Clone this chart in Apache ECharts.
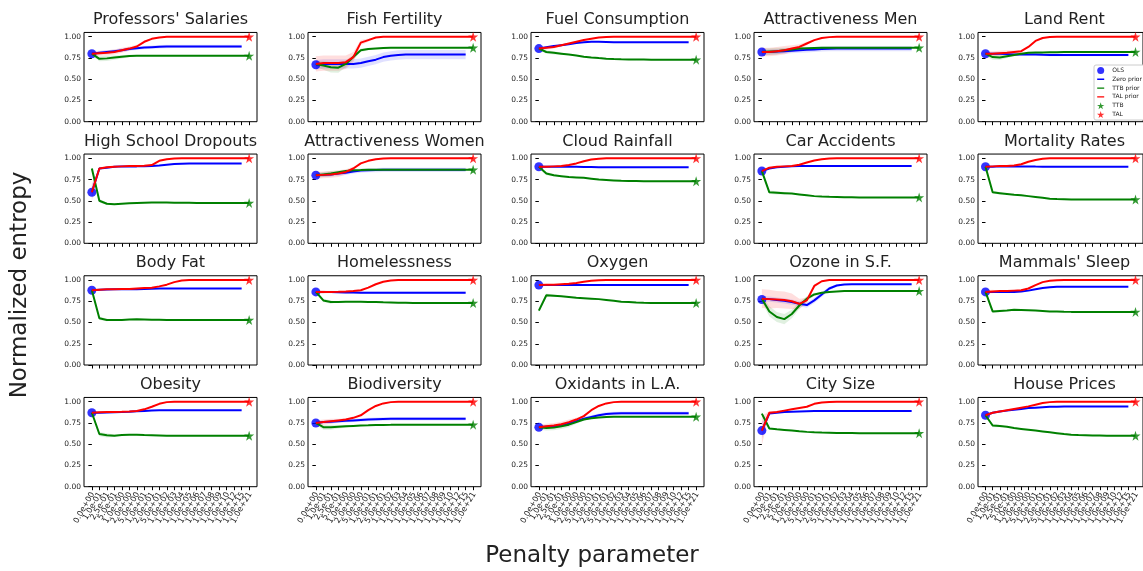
<!DOCTYPE html>
<html><head><meta charset="utf-8">
<script src="https://cdn.jsdelivr.net/npm/echarts@6/dist/echarts.min.js"></script>
<style>html,body{margin:0;padding:0;background:#fff}#c{width:1143px;height:571px}</style>
</head><body><div id="c"></div>
<script>
const penaltyLabels = ["0.0e+00","1.0e-01","2.5e-01","5.0e-01","1.0e+00","2.0e+00","5.0e+00","1.0e+01","2.0e+01","5.0e+01","1.0e+02","1.0e+03","1.0e+04","1.0e+05","1.0e+06","1.0e+07","1.0e+08","1.0e+09","1.0e+10","1.0e+12","1.0e+15","1.0e+21"];
const yTickValues = [0, 0.25, 0.5, 0.75, 1.0];
const titles = ["Professors' Salaries","Fish Fertility","Fuel Consumption","Attractiveness Men","Land Rent",
 "High School Dropouts","Attractiveness Women","Cloud Rainfall","Car Accidents","Mortality Rates",
 "Body Fat","Homelessness","Oxygen","Ozone in S.F.","Mammals' Sleep",
 "Obesity","Biodiversity","Oxidants in L.A.","City Size","House Prices"];
const olsValues = [0.80,0.67,0.86,0.82,0.80, 0.60,0.80,0.90,0.85,0.90, 0.88,0.86,0.94,0.77,0.86, 0.87,0.75,0.70,0.66,0.84];
const ttbFinal = [0.775,0.87,0.73,0.87,0.82, 0.475,0.865,0.73,0.54,0.515, 0.53,0.73,0.73,0.87,0.625, 0.60,0.73,0.823,0.63,0.60];
const talFinal = [1,1,1,1,1, 1,1,1,1,1, 1,1,1,1,1, 1,1,1,1,1];

const zeroPrior = [
 [0.80,0.81,0.82,0.83,0.84,0.855,0.865,0.872,0.877,0.881,0.884,0.886,0.886,0.886,0.886,0.886,0.886,0.886,0.886,0.886,0.886],
 [0.67,0.68,0.68,0.68,0.68,0.68,0.69,0.71,0.73,0.76,0.775,0.785,0.79,0.79,0.79,0.79,0.79,0.79,0.79,0.79,0.79],
 [0.86,0.875,0.89,0.90,0.91,0.925,0.935,0.94,0.94,0.938,0.935,0.935,0.935,0.935,0.935,0.935,0.935,0.935,0.935,0.935,0.935],
 [0.82,0.82,0.825,0.83,0.835,0.84,0.845,0.85,0.855,0.858,0.86,0.86,0.86,0.86,0.86,0.86,0.86,0.86,0.86,0.86,0.86],
 [0.80,0.80,0.80,0.795,0.79,0.79,0.79,0.79,0.787,0.786,0.785,0.785,0.785,0.785,0.785,0.785,0.785,0.785,0.785,0.785,0.785],
 [0.60,0.88,0.89,0.90,0.905,0.905,0.905,0.907,0.91,0.915,0.925,0.932,0.937,0.94,0.94,0.94,0.94,0.94,0.94,0.94,0.94],
 [0.80,0.805,0.81,0.82,0.83,0.845,0.855,0.86,0.862,0.864,0.865,0.865,0.865,0.865,0.865,0.865,0.865,0.865,0.865,0.865,0.865],
 [0.90,0.90,0.90,0.90,0.90,0.90,0.898,0.897,0.896,0.895,0.895,0.895,0.895,0.895,0.895,0.895,0.895,0.895,0.895,0.895,0.895],
 [0.85,0.88,0.895,0.90,0.905,0.908,0.91,0.91,0.91,0.91,0.91,0.91,0.91,0.91,0.91,0.91,0.91,0.91,0.91,0.91,0.91],
 [0.90,0.90,0.905,0.905,0.905,0.905,0.905,0.903,0.902,0.90,0.90,0.90,0.90,0.90,0.90,0.90,0.90,0.90,0.90,0.90,0.90],
 [0.88,0.885,0.888,0.89,0.89,0.89,0.89,0.893,0.896,0.90,0.90,0.90,0.90,0.90,0.90,0.90,0.90,0.90,0.90,0.90,0.90],
 [0.86,0.86,0.858,0.855,0.853,0.852,0.85,0.85,0.85,0.85,0.85,0.85,0.85,0.85,0.85,0.85,0.85,0.85,0.85,0.85,0.85],
 [0.94,0.94,0.94,0.94,0.94,0.94,0.94,0.94,0.94,0.94,0.94,0.94,0.94,0.94,0.94,0.94,0.94,0.94,0.94,0.94,0.94],
 [0.78,0.775,0.765,0.755,0.74,0.72,0.705,0.76,0.83,0.90,0.935,0.948,0.95,0.95,0.95,0.95,0.95,0.95,0.95,0.95,0.95],
 [0.86,0.86,0.86,0.86,0.86,0.865,0.875,0.89,0.905,0.915,0.92,0.92,0.92,0.92,0.92,0.92,0.92,0.92,0.92,0.92,0.92],
 [0.87,0.87,0.872,0.875,0.878,0.882,0.887,0.892,0.896,0.899,0.90,0.90,0.90,0.90,0.90,0.90,0.90,0.90,0.90,0.90,0.90],
 [0.75,0.76,0.765,0.77,0.775,0.78,0.785,0.79,0.793,0.796,0.798,0.80,0.80,0.80,0.80,0.80,0.80,0.80,0.80,0.80,0.80],
 [0.70,0.705,0.71,0.72,0.74,0.77,0.80,0.82,0.84,0.855,0.862,0.865,0.865,0.865,0.865,0.865,0.865,0.865,0.865,0.865,0.865],
 [0.66,0.86,0.87,0.88,0.883,0.886,0.888,0.89,0.89,0.89,0.89,0.89,0.89,0.89,0.89,0.89,0.89,0.89,0.89,0.89,0.89],
 [0.84,0.87,0.885,0.895,0.905,0.915,0.925,0.93,0.935,0.94,0.942,0.944,0.945,0.945,0.945,0.945,0.945,0.945,0.945,0.945,0.945]
];

const ttbPrior = [
 [0.80,0.74,0.745,0.755,0.765,0.772,0.775,0.775,0.775,0.775,0.775,0.775,0.775,0.775,0.775,0.775,0.775,0.775,0.775,0.775,0.775,0.775],
 [0.68,0.66,0.64,0.635,0.68,0.76,0.84,0.855,0.862,0.867,0.87,0.87,0.87,0.87,0.87,0.87,0.87,0.87,0.87,0.87,0.87,0.87],
 [0.86,0.82,0.81,0.80,0.79,0.78,0.765,0.755,0.748,0.742,0.738,0.735,0.733,0.732,0.731,0.73,0.73,0.73,0.73,0.73,0.73,0.73],
 [0.82,0.825,0.83,0.84,0.85,0.86,0.865,0.868,0.87,0.87,0.87,0.87,0.87,0.87,0.87,0.87,0.87,0.87,0.87,0.87,0.87,0.87],
 [0.80,0.76,0.755,0.77,0.785,0.80,0.81,0.813,0.815,0.817,0.818,0.819,0.82,0.82,0.82,0.82,0.82,0.82,0.82,0.82,0.82,0.82],
 [0.88,0.50,0.465,0.46,0.465,0.47,0.475,0.478,0.48,0.48,0.48,0.478,0.477,0.476,0.475,0.475,0.475,0.475,0.475,0.475,0.475,0.475],
 [0.80,0.81,0.82,0.835,0.85,0.86,0.862,0.865,0.865,0.865,0.865,0.865,0.865,0.865,0.865,0.865,0.865,0.865,0.865,0.865,0.865,0.865],
 [0.90,0.82,0.80,0.79,0.78,0.775,0.77,0.76,0.75,0.745,0.74,0.735,0.733,0.732,0.731,0.73,0.73,0.73,0.73,0.73,0.73,0.73],
 [0.85,0.60,0.595,0.59,0.585,0.575,0.565,0.555,0.55,0.547,0.545,0.543,0.542,0.54,0.54,0.54,0.54,0.54,0.54,0.54,0.54,0.54],
 [0.90,0.60,0.59,0.58,0.57,0.565,0.555,0.545,0.535,0.525,0.52,0.518,0.516,0.515,0.515,0.515,0.515,0.515,0.515,0.515,0.515,0.515],
 [0.88,0.55,0.53,0.528,0.53,0.535,0.537,0.535,0.533,0.532,0.53,0.53,0.53,0.53,0.53,0.53,0.53,0.53,0.53,0.53,0.53,0.53],
 [0.86,0.76,0.74,0.74,0.745,0.745,0.745,0.742,0.74,0.737,0.735,0.733,0.732,0.73,0.73,0.73,0.73,0.73,0.73,0.73,0.73,0.73],
 [0.64,0.82,0.815,0.81,0.80,0.79,0.785,0.78,0.775,0.765,0.755,0.745,0.74,0.735,0.732,0.73,0.73,0.73,0.73,0.73,0.73,0.73],
 [0.78,0.63,0.565,0.54,0.60,0.70,0.78,0.83,0.85,0.86,0.865,0.87,0.87,0.87,0.87,0.87,0.87,0.87,0.87,0.87,0.87,0.87],
 [0.86,0.63,0.635,0.64,0.65,0.648,0.645,0.64,0.635,0.63,0.628,0.626,0.625,0.625,0.625,0.625,0.625,0.625,0.625,0.625,0.625,0.625],
 [0.87,0.62,0.605,0.60,0.608,0.61,0.61,0.607,0.605,0.603,0.60,0.60,0.60,0.60,0.60,0.60,0.60,0.60,0.60,0.60,0.60,0.60],
 [0.75,0.70,0.70,0.705,0.71,0.715,0.72,0.722,0.725,0.727,0.728,0.73,0.73,0.73,0.73,0.73,0.73,0.73,0.73,0.73,0.73,0.73],
 [0.70,0.69,0.695,0.71,0.73,0.76,0.79,0.805,0.815,0.82,0.822,0.823,0.823,0.823,0.823,0.823,0.823,0.823,0.823,0.823,0.823,0.823],
 [0.86,0.685,0.675,0.668,0.66,0.652,0.645,0.64,0.637,0.635,0.633,0.632,0.631,0.63,0.63,0.63,0.63,0.63,0.63,0.63,0.63,0.63],
 [0.84,0.72,0.715,0.705,0.69,0.68,0.67,0.66,0.65,0.64,0.63,0.62,0.612,0.607,0.605,0.603,0.602,0.60,0.60,0.60,0.60,0.60]
];

const talPrior = [
 [0.80,0.805,0.81,0.82,0.84,0.86,0.885,0.94,0.975,0.99,0.998,1,1,1,1,1,1,1,1,1,1,1],
 [0.68,0.69,0.69,0.69,0.70,0.76,0.93,0.96,0.99,1,1,1,1,1,1,1,1,1,1,1,1,1],
 [0.86,0.87,0.88,0.90,0.92,0.94,0.96,0.975,0.99,0.997,1,1,1,1,1,1,1,1,1,1,1,1],
 [0.82,0.82,0.83,0.84,0.86,0.88,0.92,0.96,0.985,0.995,1,1,1,1,1,1,1,1,1,1,1,1],
 [0.80,0.80,0.805,0.81,0.82,0.83,0.88,0.95,0.985,0.997,1,1,1,1,1,1,1,1,1,1,1,1],
 [0.60,0.88,0.895,0.90,0.905,0.91,0.91,0.912,0.92,0.97,0.99,0.997,1,1,1,1,1,1,1,1,1,1],
 [0.80,0.805,0.81,0.82,0.84,0.88,0.94,0.97,0.99,0.998,1,1,1,1,1,1,1,1,1,1,1,1],
 [0.90,0.90,0.905,0.91,0.92,0.94,0.965,0.985,0.995,1,1,1,1,1,1,1,1,1,1,1,1,1],
 [0.85,0.89,0.90,0.905,0.91,0.925,0.95,0.975,0.99,0.998,1,1,1,1,1,1,1,1,1,1,1,1],
 [0.90,0.905,0.91,0.91,0.915,0.93,0.96,0.98,0.995,1,1,1,1,1,1,1,1,1,1,1,1,1],
 [0.88,0.885,0.89,0.89,0.893,0.895,0.90,0.905,0.91,0.925,0.945,0.975,0.995,1,1,1,1,1,1,1,1,1],
 [0.86,0.86,0.86,0.862,0.865,0.87,0.88,0.91,0.95,0.98,0.995,1,1,1,1,1,1,1,1,1,1,1],
 [0.94,0.945,0.945,0.95,0.955,0.965,0.98,0.99,0.997,1,1,1,1,1,1,1,1,1,1,1,1,1],
 [0.78,0.775,0.77,0.765,0.75,0.72,0.76,0.93,0.985,1,1,1,1,1,1,1,1,1,1,1,1,1],
 [0.86,0.865,0.87,0.87,0.875,0.88,0.90,0.94,0.975,0.99,0.998,1,1,1,1,1,1,1,1,1,1,1],
 [0.87,0.875,0.878,0.88,0.882,0.885,0.89,0.91,0.94,0.975,0.995,1,1,1,1,1,1,1,1,1,1,1],
 [0.75,0.76,0.77,0.78,0.79,0.81,0.84,0.90,0.95,0.98,0.995,1,1,1,1,1,1,1,1,1,1,1],
 [0.70,0.71,0.72,0.735,0.76,0.79,0.83,0.90,0.95,0.98,0.995,1,1,1,1,1,1,1,1,1,1,1],
 [0.66,0.87,0.88,0.895,0.91,0.925,0.94,0.975,0.99,0.997,1,1,1,1,1,1,1,1,1,1,1,1],
 [0.84,0.87,0.885,0.90,0.915,0.93,0.945,0.965,0.985,0.995,1,1,1,1,1,1,1,1,1,1,1,1]
];

// half-widths of the shaded uncertainty bands (points beyond the list have no band)
const zeroBand = [
 [0.02,0.02,0.02,0.02,0.02,0.02,0.02,0.02,0.02,0.02,0.02,0.02,0.02,0.02,0.02,0.02,0.02,0.02,0.02,0.02,0.02],
 [0.055,0.055,0.055,0.055,0.055,0.055,0.055,0.055,0.055,0.055,0.055,0.055,0.055,0.055,0.055,0.055,0.055,0.055,0.055,0.055,0.055],
 [],
 [0.03,0.03,0.03,0.03,0.03,0.03,0.03,0.03,0.03,0.03,0.03,0.03,0.03,0.03,0.03,0.03,0.03,0.03,0.03,0.03,0.03],
 [0.015,0.015,0.015,0.015,0.015,0.015,0.015,0.015,0.015,0.015,0.015,0.015,0.015,0.015,0.015,0.015,0.015,0.015,0.015,0.015,0.015],
 [0.08,0],
 [0.025,0.025,0.025,0.025,0.025,0.025,0.025,0.025,0.025,0.025,0.025,0.025,0.025,0.025,0.025,0.025,0.025,0.025,0.025,0.025,0.025],
 [],
 [0.03,0],
 [],
 [0.02,0],
 [0.015,0.015,0.015,0.015,0.015,0.015,0.015,0.015,0.015,0.015,0.015,0.015,0.015,0.015,0.015,0.015,0.015,0.015,0.015,0.015,0.015],
 [],
 [0.03,0.03,0.03,0.03,0.03,0.03,0.03,0.03,0.03,0.02,0.015,0],
 [],
 [],
 [0.02,0.02,0.02,0.02,0.02,0.02,0.02,0.02,0.02,0.02,0.02,0.02,0.02,0.02,0.02,0.02,0.02,0.02,0.02,0.02,0.02],
 [0.02,0.02,0.02,0.02,0.02,0.02,0.02,0.02,0.02,0.02,0.02,0.02,0.02,0.02,0.02,0.02,0.02,0.02,0.02,0.02,0.02],
 [0.1,0],
 [0.02,0]
];
const ttbBand = [
 [0.02,0.03,0.03,0.025,0.02,0.015,0],
 [0.03,0.05,0.06,0.06,0.04,0.03,0.02,0.015,0],
 [0.02,0.02,0.02,0.015,0],
 [0.04,0.04,0.04,0.03,0.02,0.015,0],
 [0.03,0.03,0.03,0.02,0.015,0],
 [0.015,0.02,0.015,0],
 [0.03,0.03,0.03,0.02,0.015,0],
 [0.015,0.02,0.015,0],
 [0.02,0.02,0.02,0.015,0],
 [0.015,0.015,0.015,0],
 [0.015,0.02,0.015,0],
 [0.02,0.02,0.02,0],
 [0.02,0.02,0.015,0],
 [0.04,0.06,0.06,0.06,0.05,0.04,0.03,0.02,0],
 [0.015,0.015,0.015,0],
 [0.015,0.025,0.025,0.015,0],
 [0.02,0.03,0.03,0.02,0.015,0],
 [0.03,0.03,0.03,0.03,0.03,0.02,0.015,0],
 [0.015,0.015,0],
 [0.015,0.02,0.015,0]
];
const talBand = [
 [0.03,0.03,0.03,0.03,0.03,0.025,0.02,0.015,0],
 [0.09,0.09,0.09,0.09,0.08,0.06,0.03,0.02,0],
 [0.02,0.02,0.02,0.015,0],
 [0.05,0.05,0.05,0.05,0.04,0.03,0.02,0],
 [0.03,0.03,0.03,0.03,0.02,0.015,0],
 [0.1,0],
 [0.04,0.04,0.04,0.04,0.03,0.02,0],
 [0.015,0.015,0],
 [0.03,0],
 [0.02,0],
 [0.02,0],
 [0.02,0.02,0],
 [],
 [0.11,0.11,0.1,0.1,0.09,0.06,0.03,0.02,0],
 [0.02,0.02,0],
 [0.02,0],
 [0.03,0.03,0.03,0.02,0.015,0],
 [0.03,0.03,0.03,0.03,0.03,0.02,0.015,0],
 [0.17,0.02,0],
 [0.02,0]
];

const STAR = 'path://M50,0 L61,35 L98,35 L68,57 L79,91 L50,70 L21,91 L32,57 L2,35 L39,35 Z';
const LINE_ICON = 'path://M0,0 L1,0 L1,1 Z M0,40 L100,40 L100,60 L0,60 Z M99,99 L100,99 L100,100 Z';
const FONT = 'DejaVu Sans';
const COL_LEFT = [84, 308, 531, 754, 978];
const ROW_ZERO = [121.7, 243.3, 365, 486.7];
const GW = 173, GH = 89.25;

const grids = [], xAxes = [], yAxes = [], series = [], graphics = [];
const xIdx = penaltyLabels.map((_, i) => i);

function bandSeries(p, values, hw, color) {
  const n = Math.min(hw.length, values.length);
  if (n < 2) return null;
  return {
    type: 'custom', xAxisIndex: p, yAxisIndex: p, silent: true, z: 1,
    data: [[0, 0]],
    renderItem: function (params, api) {
      const up = [], lo = [];
      for (let i = 0; i < n; i++) {
        up.push(api.coord([i, values[i] + hw[i]]));
        lo.push(api.coord([i, values[i] - hw[i]]));
      }
      return { type: 'polygon', shape: { points: up.concat(lo.reverse()) }, style: { fill: color } };
    }
  };
}

// rotated x tick labels for the bottom row, placed through the axis scale
function tickLabelSeries(p) {
  return {
    type: 'custom', xAxisIndex: p, yAxisIndex: p, silent: true, clip: false, z: 5,
    data: xIdx.map(i => [i, 0]),
    renderItem: function (params, api) {
      const i = api.value(0);
      const pt = api.coord([i, 0]);
      return {
        type: 'text', x: pt[0] + 1, y: pt[1] + 6, rotation: Math.PI / 3,
        style: { text: penaltyLabels[i], fontSize: 8, fontFamily: FONT, fill: '#222', textAlign: 'right', textVerticalAlign: 'middle' }
      };
    }
  };
}

for (let p = 0; p < 20; p++) {
  const r = Math.floor(p / 5), c = p % 5;
  const top = ROW_ZERO[r] - GH;
  grids.push({ left: COL_LEFT[c], top: top, width: GW, height: GH, show: true, borderColor: '#000', borderWidth: 1, backgroundColor: 'rgba(0,0,0,0)' });
  xAxes.push({
    gridIndex: p, type: 'value', min: -1.05, max: 22.05,
    axisLine: { show: false }, splitLine: { show: false },
    axisTick: { show: true, customValues: xIdx, length: 3.5, lineStyle: { color: '#000', width: 1 } },
    axisLabel: { show: false }
  });
  yAxes.push({
    gridIndex: p, type: 'value', min: 0, max: 1.05,
    axisLine: { show: false }, splitLine: { show: false },
    axisTick: { show: true, customValues: yTickValues, length: 3.5, lineStyle: { color: '#000', width: 1 } },
    axisLabel: { show: true, customValues: yTickValues, formatter: v => v.toFixed(2), fontSize: 7.5, color: '#222', fontFamily: FONT, margin: 3, showMinLabel: true, showMaxLabel: true }
  });
  graphics.push({ type: 'text', x: COL_LEFT[c] + GW / 2, y: top - 12.5, style: { text: titles[p], fontSize: 16, fontFamily: FONT, fill: '#222', textAlign: 'center', textVerticalAlign: 'middle' } });

  [bandSeries(p, zeroPrior[p], zeroBand[p], 'rgba(0,0,255,0.12)'),
   bandSeries(p, ttbPrior[p], ttbBand[p], 'rgba(0,128,0,0.12)'),
   bandSeries(p, talPrior[p], talBand[p], 'rgba(255,0,0,0.13)')].forEach(s => { if (s) series.push(s); });

  series.push({ type: 'scatter', name: 'OLS', xAxisIndex: p, yAxisIndex: p, data: [[0, olsValues[p]]], symbol: 'circle', symbolSize: 9, itemStyle: { color: '#0000ff' }, z: 2 });
  series.push({ type: 'line', name: 'Zero prior', xAxisIndex: p, yAxisIndex: p, data: zeroPrior[p].map((v, i) => [i, v]), symbol: 'none', lineStyle: { color: '#0000ff', width: 2 }, itemStyle: { color: '#0000ff' }, z: 3 });
  series.push({ type: 'line', name: 'TTB prior', xAxisIndex: p, yAxisIndex: p, data: ttbPrior[p].map((v, i) => [i, v]), symbol: 'none', lineStyle: { color: '#008000', width: 2 }, itemStyle: { color: '#008000' }, z: 3 });
  series.push({ type: 'line', name: 'TAL prior', xAxisIndex: p, yAxisIndex: p, data: talPrior[p].map((v, i) => [i, v]), symbol: 'none', lineStyle: { color: '#ff0000', width: 2 }, itemStyle: { color: '#ff0000' }, z: 3 });
  series.push({ type: 'scatter', name: 'TTB', xAxisIndex: p, yAxisIndex: p, data: [[xIdx.length - 1, ttbFinal[p]]], symbol: STAR, symbolSize: 10, itemStyle: { color: '#008000' }, z: 4 });
  series.push({ type: 'scatter', name: 'TAL', xAxisIndex: p, yAxisIndex: p, data: [[xIdx.length - 1, talFinal[p]]], symbol: STAR, symbolSize: 10, itemStyle: { color: '#ff0000' }, z: 4 });
  if (r === 3) series.push(tickLabelSeries(p));
}

graphics.push({ type: 'text', x: 20, y: 285, rotation: Math.PI / 2, style: { text: 'Normalized entropy', fontSize: 23, fontFamily: FONT, fill: '#222', textAlign: 'center', textVerticalAlign: 'middle' } });
graphics.push({ type: 'text', x: 592, y: 556, style: { text: 'Penalty parameter', fontSize: 23, fontFamily: FONT, fill: '#222', textAlign: 'center', textVerticalAlign: 'middle' } });

const chart = echarts.init(document.getElementById('c'), null, { renderer: 'canvas' });
chart.setOption({
  animation: false,
  backgroundColor: '#fff',
  textStyle: { fontFamily: FONT },
  grid: grids, xAxis: xAxes, yAxis: yAxes, series: series, graphic: graphics,
  legend: {
    data: [
      { name: 'OLS', icon: 'circle' },
      { name: 'Zero prior', icon: LINE_ICON },
      { name: 'TTB prior', icon: LINE_ICON },
      { name: 'TAL prior', icon: LINE_ICON },
      { name: 'TTB', icon: STAR },
      { name: 'TAL', icon: STAR }
    ],
    orient: 'vertical', left: 1094, top: 65,
    itemWidth: 13, itemHeight: 7, itemGap: 1.8,
    padding: [2, 3, 2, 3],
    backgroundColor: '#fff', borderColor: '#ccc', borderWidth: 1, borderRadius: 2,
    textStyle: { fontSize: 6, color: '#222', fontFamily: FONT },
    selectedMode: false
  }
});
</script>
</body></html>
